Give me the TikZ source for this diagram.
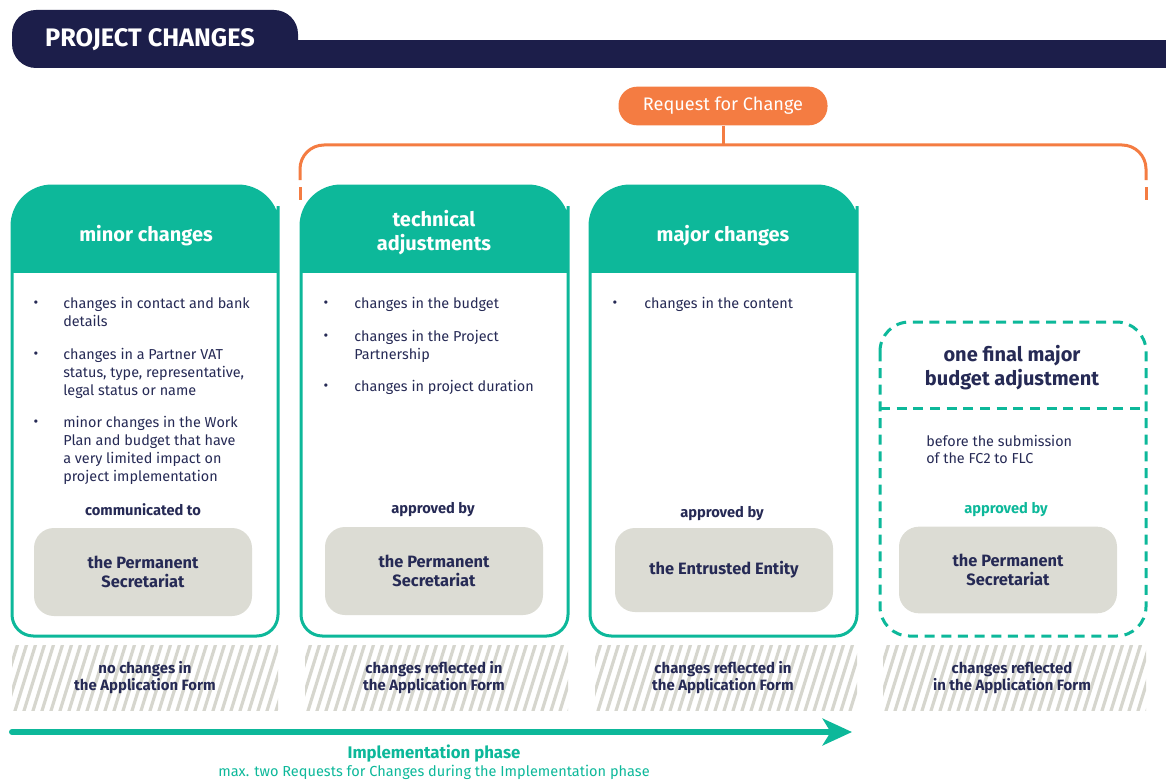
\documentclass[tikz,border=0pt]{standalone}
\usepackage{fontspec}
\setmainfont{Fira Sans}
\usetikzlibrary{arrows.meta}
\definecolor{navy}{HTML}{1C1E4A}
\definecolor{tealc}{HTML}{0DB89A}
\definecolor{orangec}{HTML}{F47C42}
\definecolor{grayc}{HTML}{DCDCD4}
\definecolor{txt}{HTML}{262A55}
\definecolor{hatchc}{HTML}{D6D6CE}
\tikzset{
 body/.style={font=\fontsize{10.8}{13.5}\selectfont, text=txt, inner sep=0pt, anchor=north west, align=left},
 bul/.style={font=\fontsize{10.8}{13.5}\selectfont, text=txt, inner sep=0pt, anchor=base},
 head/.style={font=\fontsize{15}{18}\selectfont\bfseries, text=white, align=center},
 lbl/.style={font=\fontsize{11}{13}\selectfont\bfseries, text=txt},
 entity/.style={fill=grayc, rounded corners=15pt, minimum width=163.5pt, minimum height=66pt, font=\fontsize{12.3}{14}\selectfont\bfseries, text=txt, align=center},
 hatchtxt/.style={font=\fontsize{11.2}{12.75}\selectfont\bfseries, text=txt, align=center},
 cardline/.style={draw=tealc, line width=2.25pt},
 hatchline/.style={draw=hatchc, line width=2.4pt},
 bracket/.style={draw=orangec, line width=2.25pt},
}
\newcommand\cardshape[4]{(#1,#3+60) [rounded corners=30pt] -- (#1,#3) -- (#2,#3) -- (#2,#3+60) [rounded corners=16pt] -- (#2,#4) -- (#1,#4) -- (#1,#3+60) -- cycle}
\newcommand\mycard[4]{%
  \fill[white] \cardshape{#1}{#2}{#3}{#4};
  \begin{scope}
    \clip (#1-5,#3-5) rectangle (#2+5,272);
    \fill[tealc] \cardshape{#1}{#2}{#3}{#4};
  \end{scope}
  \draw[cardline] \cardshape{#1}{#2}{#3}{#4};
}
\newcommand\hatchbox[2]{%
  \begin{scope}
    \clip (#1,645) rectangle (#2,710);
    \foreach \k in {0,...,34} {\draw[hatchline] ({#1-25+\k*9},714) -- ++(23,-74);}
  \end{scope}
}
\begin{document}
\begin{tikzpicture}[x=0.75pt,y=-0.75pt]
\useasboundingbox (0,0) rectangle (1166,781);
% header
\fill[navy, rounded corners=18pt] (12,10) rectangle (298,68);
\fill[navy] (270,40) rectangle (1166,68);
\node[font=\fontsize{19}{22}\selectfont\bfseries, text=white] (title) at (150,40) {PROJECT CHANGES};
% request for change
\node[fill=orangec, rounded corners=14pt, minimum width=156.75pt, minimum height=29pt, text=white, font=\fontsize{13.6}{15}\selectfont] (rfc) at (723,106) {Request for Change};
\coordinate (brk) at (723,145);
\draw[bracket] (rfc.south) -- (brk);
\draw[bracket, rounded corners=18pt] (300,180) -- (300,145) -- (1146,145) -- (1146,180);
\draw[bracket] (300,187) -- (300,200);
\draw[bracket] (1146,187) -- (1146,200);
% cards
\mycard{12}{278}{186}{636}
\mycard{301}{568}{186}{636}
\mycard{590}{857}{186}{636}
\draw[draw=tealc, line width=2.25pt, dash pattern=on 7.5pt off 5pt, rounded corners=22pt] (880,322) rectangle (1146,636);
\draw[draw=tealc, line width=2.25pt, dash pattern=on 7.5pt off 5pt] (880,408) -- (1146,408);
% headers
\node[head] (h1) at (146,236) {minor changes};
\node[head] (h2) at (434,233) {technical\\adjustments};
\node[head] (h3) at (723,236) {major changes};
\node[head, text=txt] (h4) at (1012,368) {one final major\\budget adjustment};
% card 1 bullets
\node[bul] (b11) at (36,307) {•};
\node[body] (t11) at (63,297) {changes in contact and bank\\details};
\node[bul] (b12) at (36,358) {•};
\node[body] (t12) at (63,348) {changes in a Partner VAT\\status, type, representative,\\legal status or name};
\node[bul] (b13) at (36,426) {•};
\node[body] (t13) at (63,416) {minor changes in the Work\\Plan and budget that have\\a very limited impact on\\project implementation};
% card 2 bullets
\node[bul] (b21) at (326,307) {•};
\node[body] (t21) at (354,297) {changes in the budget};
\node[bul] (b22) at (326,340) {•};
\node[body] (t22) at (354,330) {changes in the Project\\Partnership};
\node[bul] (b23) at (326,390) {•};
\node[body] (t23) at (354,380) {changes in project duration};
% card 3 bullets
\node[bul] (b31) at (615,307) {•};
\node[body] (t31) at (644,297) {changes in the content};
% card 4 text
\node[body, font=\fontsize{10.8}{12.75}\selectfont] (t41) at (926,435) {before the submission\\of the FC2 to FLC};
% labels
\node[lbl] (l1) at (143,510) {communicated to};
\node[lbl] (l2) at (433,510) {approved by};
\node[lbl] (l3) at (722,514) {approved by};
\node[lbl, text=tealc] (l4) at (1006,510) {approved by};
% entities
\node[entity] (e1) at (143,572) {the Permanent\\Secretariat};
\node[entity] (e2) at (434,571) {the Permanent\\Secretariat};
\node[entity, minimum height=63pt] (e3) at (724,570) {the Entrusted Entity};
\node[entity, minimum height=65pt] (e4) at (1008,570) {the Permanent\\Secretariat};
% hatched boxes
\hatchbox{12}{278}
\hatchbox{305}{568}
\hatchbox{595}{857}
\hatchbox{883}{1146}
\node[hatchtxt] (f1) at (145,678) {no changes in\\the Application Form};
\node[hatchtxt] (f2) at (434,678) {changes reflected in\\the Application Form};
\node[hatchtxt] (f3) at (723,678) {changes reflected in\\the Application Form};
\node[hatchtxt] (f4) at (1012,678) {changes reflected\\in the Application Form};
% arrow
\coordinate (a0) at (12,732);
\coordinate (a1) at (852,732);
\draw[tealc, line width=4.5pt, line cap=round, -{Stealth[length=22pt, width=20pt, inset=6pt]}] (a0) -- (a1);
\node[font=\fontsize{12.6}{14}\selectfont\bfseries, text=tealc] (ip) at (434,754) {Implementation phase};
\node[font=\fontsize{10.9}{12}\selectfont, text=tealc] (ipn) at (434,772) {max. two Requests for Changes during the Implementation phase};
\end{tikzpicture}
\end{document}
